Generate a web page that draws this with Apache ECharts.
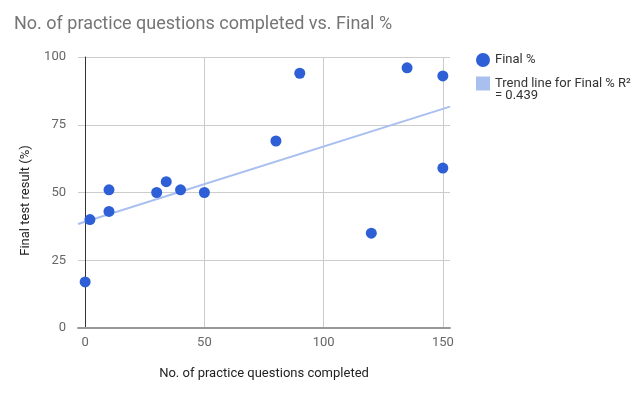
<!DOCTYPE html>
<html><head><meta charset="utf-8">
<script src="https://cdn.jsdelivr.net/npm/echarts@6/dist/echarts.min.js"></script>
<style>html,body{margin:0;padding:0;background:#fff}#c{width:639px;height:393px}</style>
</head><body><div id="c"></div>
<script>
var title = 'No. of practice questions completed vs. Final %';
var xName = 'No. of practice questions completed';
var yName = 'Final test result (%)';
var seriesName = 'Final %';
var trendName = 'Trend line for Final % R²\n= 0.439';
var questions = [0, 2, 10, 10, 30, 34, 40, 50, 80, 90, 120, 135, 150, 150];
var finalPct  = [17, 40, 51, 43, 50, 54, 51, 50, 69, 94, 35, 96, 93, 59];
var trendX = [-3, 153];
var trendY = [38.4, 81.7];
var xTicks = [0, 50, 100, 150];

var pts = questions.map(function(q, i){ return [q, finalPct[i]]; });
var trend = trendX.map(function(x, i){ return [x, trendY[i]]; });

var chart = echarts.init(document.getElementById('c'));
chart.setOption({
  animation: false,
  textStyle: { fontFamily: 'Roboto' },
  title: { text: title, left: 9, top: 10,
    textStyle: { fontFamily: 'Roboto', fontSize: 18, fontWeight: 'normal', color: '#757575' } },
  legend: {
    orient: 'vertical', left: 471, top: 48, itemGap: -2,
    itemWidth: 14, itemHeight: 14,
    textStyle: { fontFamily: 'Roboto', fontSize: 13, color: '#333', lineHeight: 12 },
    formatter: function (name) { return name === trendName ? ' \n' + name : name; },
    data: [
      { name: seriesName, icon: 'circle', itemStyle: { color: '#2e5fd6' } },
      { name: trendName, icon: 'rect', itemStyle: { color: '#a9bff0' } }
    ]
  },
  grid: { left: 78, right: 189, top: 57, bottom: 65 },
  xAxis: {
    type: 'value', min: -3, max: 153,
    name: xName, nameLocation: 'middle', nameGap: 39,
    nameTextStyle: { fontFamily: 'Roboto', fontSize: 13, color: '#222' },
    axisLine: { show: true, onZero: false, lineStyle: { color: '#999', width: 2 } },
    axisTick: { show: false, customValues: xTicks },
    axisLabel: { customValues: xTicks, margin: 8, fontSize: 13, color: '#666', fontFamily: 'Roboto' },
    splitLine: { show: true, lineStyle: { color: '#ccc' } }
  },
  yAxis: {
    type: 'value', min: 0, max: 100, interval: 25,
    name: yName, nameLocation: 'middle', nameGap: 46,
    nameTextStyle: { fontFamily: 'Roboto', fontSize: 13, color: '#222', padding: [0, 16, 0, 0] },
    axisLine: { show: true, onZero: true, lineStyle: { color: '#333', width: 1 } },
    axisTick: { show: false },
    axisLabel: { margin: 12, fontSize: 13, color: '#666', fontFamily: 'Roboto' },
    splitLine: { show: true, lineStyle: { color: '#ccc' } }
  },
  series: [
    { name: trendName, type: 'line', data: trend, showSymbol: false, symbol: 'none',
      lineStyle: { color: '#a9bff0', width: 2 }, itemStyle: { color: '#a9bff0' }, z: 2 },
    { name: seriesName, type: 'scatter', data: pts, symbolSize: 11,
      itemStyle: { color: '#2e5fd6', opacity: 1 }, z: 3 }
  ]
});
</script></body></html>
